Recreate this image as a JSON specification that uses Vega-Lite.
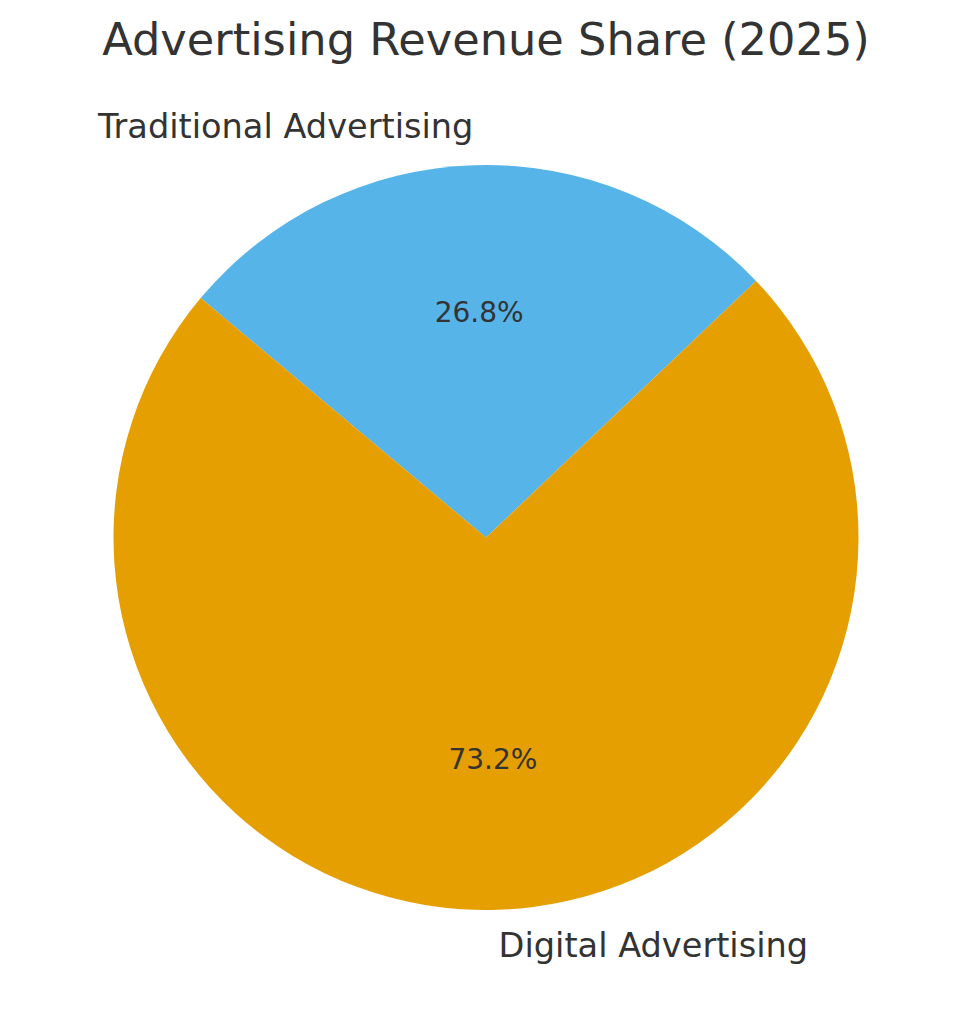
{
  "$schema": "https://vega.github.io/schema/vega-lite/v6.json",
  "width": 972,
  "height": 973,
  "autosize": {"type": "none"},
  "padding": {"top": 51, "left": 0, "right": 0, "bottom": 0},
  "background": "white",
  "config": {"view": {"stroke": null}, "font": "DejaVu Sans"},
  "title": {
    "text": "Advertising Revenue Share (2025)",
    "fontSize": 44.7,
    "font": "DejaVu Sans",
    "fontWeight": "normal",
    "color": "#333333",
    "anchor": "middle",
    "baseline": "alphabetic",
    "offset": -45,
    "dy": 4
  },
  "data": {
    "values": [
      {"category": "Traditional Advertising", "share": 26.8, "label": "26.8%", "order": 1},
      {"category": "Digital Advertising", "share": 73.2, "label": "73.2%", "order": 2}
    ]
  },
  "encoding": {
    "theta": {"field": "share", "type": "quantitative", "stack": true, "scale": {"range": [-0.8727, 5.4105]}},
    "order": {"field": "order", "type": "quantitative"}
  },
  "layer": [
    {
      "mark": {"type": "arc", "outerRadius": 372.5},
      "encoding": {
        "color": {
          "field": "category",
          "type": "nominal",
          "scale": {"domain": ["Traditional Advertising", "Digital Advertising"], "range": ["#56B4E9", "#E69F00"]},
          "legend": null
        }
      }
    },
    {
      "mark": {"type": "text", "radius": 223.5, "fontSize": 28, "color": "#333333", "align": "center", "baseline": "middle"},
      "encoding": {"text": {"field": "label"}}
    },
    {
      "mark": {"type": "text", "radius": 409.75, "fontSize": 33.6, "color": "#333333", "align": "right", "baseline": "middle"},
      "encoding": {"text": {"condition": {"test": "datum.category == 'Traditional Advertising'", "field": "category"}, "value": ""}}
    },
    {
      "mark": {"type": "text", "radius": 409.75, "fontSize": 33.6, "color": "#333333", "align": "left", "baseline": "middle"},
      "encoding": {"text": {"condition": {"test": "datum.category == 'Digital Advertising'", "field": "category"}, "value": ""}}
    }
  ]
}
